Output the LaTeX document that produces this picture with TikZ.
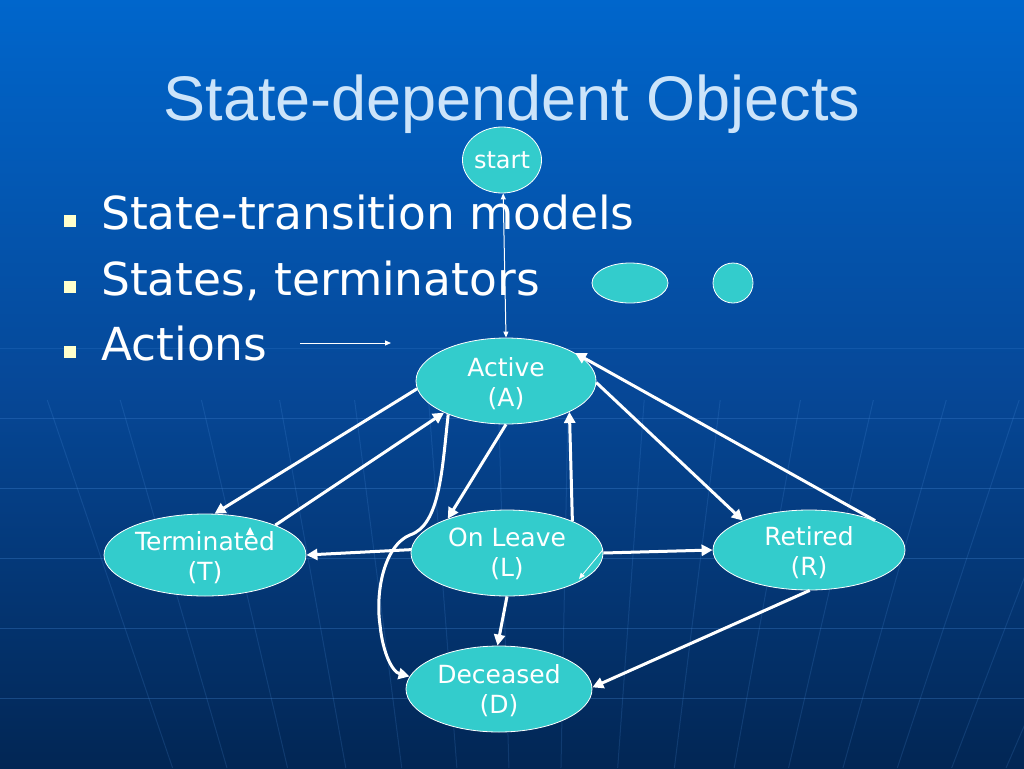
\documentclass[tikz,border=0pt]{standalone}
\usepackage{fontspec}
\setmainfont{DejaVu Sans}
\newfontfamily\titlefont{Liberation Sans}
\usetikzlibrary{shapes.geometric,arrows.meta}
\definecolor{bgtop}{RGB}{0,102,204}
\definecolor{bgmid}{RGB}{6,72,152}
\definecolor{bgbot}{RGB}{2,38,84}
\definecolor{turq}{RGB}{51,204,204}
\definecolor{titlecol}{RGB}{204,228,250}
\definecolor{gridcol}{RGB}{90,160,240}
\definecolor{bulletcol}{RGB}{255,255,204}
\tikzset{
  stnode/.style={ellipse,draw=white,line width=0.8pt,fill=turq,inner sep=0pt,
    text=white,align=center,font=\fontsize{25}{30}\selectfont},
  sttext/.style={text=white,align=center,inner sep=0pt,font=\fontsize{25}{30}\selectfont},
  edge/.style={draw=white,line width=3pt,-{Triangle[length=11pt,width=11pt]}},
  thinedge/.style={draw=white,line width=1pt,-{Triangle[length=6pt,width=5pt]}},
  bullettext/.style={anchor=base west,text=white,inner sep=0pt,font=\fontsize{45.5}{50}\selectfont},
  bulletsq/.style={fill=bulletcol,draw=none,minimum size=12pt,inner sep=0pt}
}
\begin{document}
\begin{tikzpicture}[x=1pt,y=-1pt]
\useasboundingbox (0,0) rectangle (1024,768);
% background
\shade[top color=bgtop,bottom color=bgbot,middle color=bgmid] (0,0) rectangle (1024,768);
\foreach \yy/\op in {348/0.15,418/0.22,488/0.25,558/0.25,628/0.25,698/0.25}
  \draw[gridcol,opacity=\op,line width=1pt] (0,\yy) -- (1024,\yy);
\foreach \xx in {67,137,215,290,362,433,500,567,640,713,790,860,930,1000,1070,1140}
  \draw[gridcol,opacity=0.16,line width=1pt] ({540+(\xx-540)*1.0417},400) -- ({540+(\xx-540)*0.7767},768);
% title
\node[anchor=base,inner sep=0pt,text=titlecol,font=\titlefont\fontsize{63}{70}\selectfont] (title) at (512,120) {State-dependent Objects};
% bullets
\node[bulletsq] (b1) at (70,221) {};
\node[bulletsq] (b2) at (70,287) {};
\node[bulletsq] (b3) at (70,352) {};
\node[bullettext] (t1) at (101,229) {State-transition models};
\node[bullettext] (t2) at (101,295) {States, terminators};
\node[bullettext] (t3) at (101,360) {Actions};
% legend shapes
\node[stnode,minimum width=76pt,minimum height=40pt] (e1) at (630,283) {};
\node[stnode,minimum width=40pt,minimum height=40pt] (c1) at (733,283) {};
\coordinate (act1) at (300,343);
\coordinate (act2) at (391,343);
\draw[thinedge] (act1) -- (act2);
% states
\node[stnode,minimum width=72pt,minimum height=66pt,font=\fontsize{24}{28}\selectfont] (S) at (502,160) {start};
\node[stnode,minimum width=180pt,minimum height=86pt,label={[sttext,yshift=-3pt]center:Active\\(A)}] (A) at (506,381) {};
\node[stnode,minimum width=202pt,minimum height=82pt,label={[sttext,yshift=-3pt]center:Terminated\\(T)}] (T) at (205,555) {};
\node[stnode,minimum width=192pt,minimum height=86pt,label={[sttext,yshift=-1pt]center:On Leave\\(L)}] (L) at (507,553) {};
\node[stnode,minimum width=192pt,minimum height=80pt,label={[sttext,yshift=-3pt]center:Retired\\(R)}] (R) at (809,550) {};
\node[stnode,minimum width=186pt,minimum height=86pt,label={[sttext,yshift=-2pt]center:Deceased\\(D)}] (D) at (499,689) {};
% start transition
\draw[thinedge,{Triangle[length=6pt,width=5pt]}-{Triangle[length=6pt,width=5pt]}] (S.272) -- (A.90);
% transitions
\draw[edge] (A.185) -- (T.77);
\draw[edge] (T.23) -- (A.207);
\draw[edge] (A.270) -- (L.150);
\draw[edge] (L.26) -- (A.334);
\draw[edge] (A.359) -- (R.156);
\draw[edge] (R.24) -- (A.22);
\draw[edge] (L.178) -- (T.0);
\draw[edge] (L.0) -- (R.180);
\draw[edge] (L.270) -- (D.92);
\draw[edge] (R.271) -- (D.1);
\draw[edge] (A.210) .. controls (442,470) and (440,525) .. (410,535)
   .. controls (385,545) and (375,590) .. (380,625)
   .. controls (383,655) and (393,672) .. (D.172);
% small stray marks
\coordinate (tri) at (250,532);
\fill[white] (tri) ++(-4,3) -- ++(8,0) -- ++(-4,-8) -- cycle;
\coordinate (lv) at (579,579);
\draw[white,line width=0.8pt,-{Triangle[length=6pt,width=5pt]}] (L.2) -- (lv);
\end{tikzpicture}
\end{document}
